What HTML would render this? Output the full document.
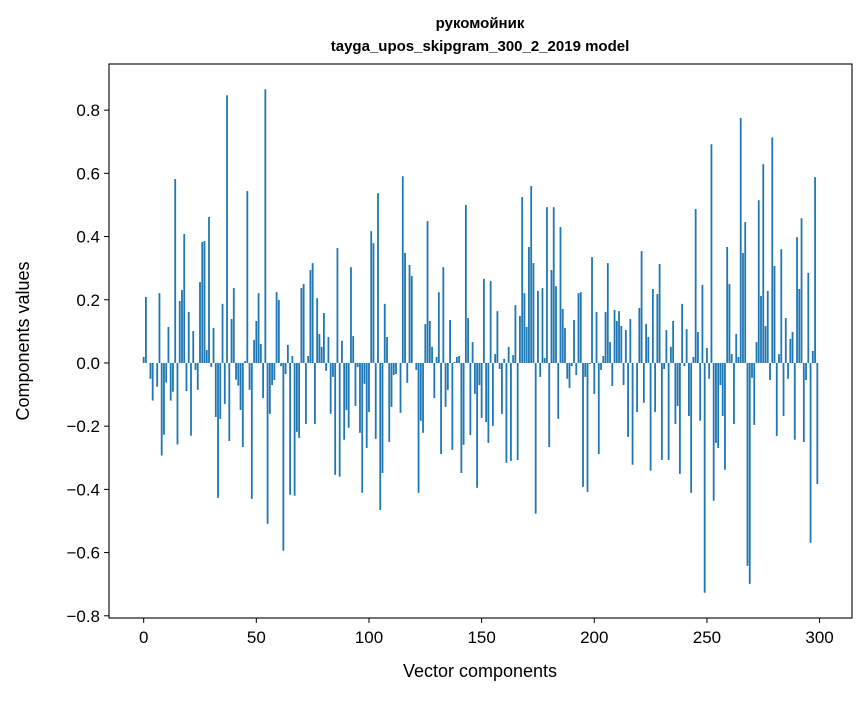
<!DOCTYPE html>
<html><head><meta charset="utf-8"><style>
body{margin:0;background:#fff;}
svg text{font-family:"Liberation Sans","DejaVu Sans",sans-serif;}
</style></head><body>
<svg id="chart" width="867" height="696" xmlns="http://www.w3.org/2000/svg">
<rect width="867" height="696" fill="#fff"/>
<text x="480" y="28" text-anchor="middle" font-size="15" font-weight="bold" font-family="'Liberation Sans','DejaVu Sans',sans-serif">рукомойник</text>
<text x="480" y="51" text-anchor="middle" font-size="15" font-weight="bold">tayga_upos_skipgram_300_2_2019 model</text>
<g id="bars"></g>
<g id="axes"></g>
<text x="480" y="677" text-anchor="middle" font-size="18">Vector components</text>
<text transform="translate(29,341) rotate(-90)" text-anchor="middle" font-size="18">Components values</text>
</svg>
<script>
const values = [
0.019,0.209,0,-0.05,-0.119,0,-0.075,0.221,-0.293,-0.227,
-0.062,0.114,-0.119,-0.091,0.582,-0.258,0.196,0.231,0.408,-0.089,
0.161,-0.23,0.101,-0.022,-0.085,0.256,0.383,0.386,0.041,0.462,
-0.013,0.111,-0.171,-0.427,-0.177,0.187,-0.13,0.847,-0.247,0.139,
0.237,-0.053,-0.072,-0.149,-0.266,0.006,0.544,-0.085,-0.43,0.073,
0.133,0.221,0.06,-0.111,0.866,-0.509,-0.161,-0.07,-0.054,0.224,
0.199,-0.01,-0.594,-0.035,0.057,-0.417,0.022,-0.42,-0.218,-0.237,
0.237,0.25,-0.193,0.022,0.294,0.316,-0.193,0.205,0.092,0.051,
0.158,-0.025,0.082,-0.161,-0.044,-0.354,0.364,-0.36,0.07,-0.243,
-0.149,-0.205,0.303,0.085,-0.136,-0.013,-0.221,-0.411,-0.066,-0.269,
-0.155,0.417,0.379,-0.24,0.537,-0.465,-0.348,0.187,0.082,-0.25,
-0.139,-0.038,-0.035,0,-0.158,0.591,0.348,-0.063,0.31,0.275,
0,-0.022,-0.411,-0.183,-0.221,0.123,0.449,0.133,0.051,-0.111,
0.019,0.224,-0.288,0.303,-0.139,-0.085,0.136,-0.275,0.003,0.019,
0.022,-0.348,-0.259,0.5,0.142,-0.228,0.066,-0.098,-0.395,-0.07,
-0.174,0.266,-0.187,-0.253,0.259,-0.199,0.028,0.164,-0.019,-0.161,
0.013,-0.316,0.051,-0.31,0.025,0.183,-0.307,0.149,0.525,0.221,
0.114,0.367,0.56,0.316,-0.477,0.228,-0.044,0.237,0.016,0.493,
-0.266,0.294,0.493,0.243,-0.177,0.43,0.171,0.111,-0.05,-0.079,
-0.01,0.136,-0.038,0.221,0.224,-0.392,-0.044,-0.408,-0.003,0.335,
-0.098,0.161,-0.288,-0.022,0.022,0.161,0.316,0.066,-0.073,0.168,
0.133,0.164,0.117,-0.07,0.104,-0.234,0.139,-0.322,0,-0.155,
0.174,0.354,-0.126,0.123,0.082,-0.341,0.234,-0.155,0.218,0.313,
-0.307,-0.019,0.104,-0.307,0.051,0.133,-0.193,-0.136,-0.351,0.187,
-0.01,0.107,-0.168,-0.411,0.019,0.487,0.098,-0.183,0.247,-0.727,
0.047,-0.05,0.692,-0.436,-0.253,-0.269,-0.07,-0.168,-0.338,0.367,
0.25,0.028,-0.193,0.092,0.019,0.775,0.348,0.446,-0.642,-0.699,
-0.047,-0.196,0.066,0.515,0.212,0.629,0.117,0.228,-0.054,0.714,
0.307,-0.231,0.028,0.36,-0.168,0.142,-0.05,0.076,0.098,-0.243,
0.398,0.234,0.458,-0.25,-0.054,0.285,-0.569,0.038,0.588,-0.383
];
const xTicks = [0,50,100,150,200,250,300];
const yTicks = [-0.8,-0.6,-0.4,-0.2,0.0,0.2,0.4,0.6,0.8];
const yTickLabels = ["\u22120.8","\u22120.6","\u22120.4","\u22120.2","0.0","0.2","0.4","0.6","0.8"];

const L=109,R=852,T=64,B=618;
const xmin=-15.39,xmax=314.39,ymin=-0.807,ymax=0.946;
const xs=v=>L+(v-xmin)/(xmax-xmin)*(R-L);
const ys=v=>B-(v-ymin)/(ymax-ymin)*(B-T);
const NS="http://www.w3.org/2000/svg";
const bars=document.getElementById('bars');
const bw=(xs(0.8)-xs(0));
values.forEach((v,i)=>{
  const r=document.createElementNS(NS,'rect');
  const y0=ys(0),y1=ys(v);
  r.setAttribute('x',xs(i)-bw/2);
  r.setAttribute('y',Math.min(y0,y1));
  r.setAttribute('width',bw);
  r.setAttribute('height',Math.abs(y1-y0));
  r.setAttribute('fill','#1f77b4');
  
  
  bars.appendChild(r);
});
const ax=document.getElementById('axes');
const frame=document.createElementNS(NS,'rect');
frame.setAttribute('x',L);frame.setAttribute('y',T);
frame.setAttribute('width',R-L);frame.setAttribute('height',B-T);
frame.setAttribute('fill','none');frame.setAttribute('stroke','#000');frame.setAttribute('stroke-width','1.1');


ax.appendChild(frame);
xTicks.forEach(t=>{
  const x=xs(t);
  const l=document.createElementNS(NS,'line');
  l.setAttribute('x1',x);l.setAttribute('x2',x);l.setAttribute('y1',B);l.setAttribute('y2',B+5);
  l.setAttribute('stroke','#000');
  
  
  ax.appendChild(l);
  const tx=document.createElementNS(NS,'text');
  tx.setAttribute('x',x);tx.setAttribute('y',B+25);tx.setAttribute('text-anchor','middle');tx.setAttribute('font-size','17');
  tx.textContent=t;
  
  
  ax.appendChild(tx);
});
yTicks.forEach((t,i)=>{
  const y=ys(t);
  const l=document.createElementNS(NS,'line');
  l.setAttribute('x1',L-5);l.setAttribute('x2',L);l.setAttribute('y1',y);l.setAttribute('y2',y);
  l.setAttribute('stroke','#000');
  
  
  ax.appendChild(l);
  const tx=document.createElementNS(NS,'text');
  tx.setAttribute('x',L-9);tx.setAttribute('y',y+6);tx.setAttribute('text-anchor','end');tx.setAttribute('font-size','17');
  tx.textContent=yTickLabels[i];
  
  
  ax.appendChild(tx);
});
</script>
</body></html>
